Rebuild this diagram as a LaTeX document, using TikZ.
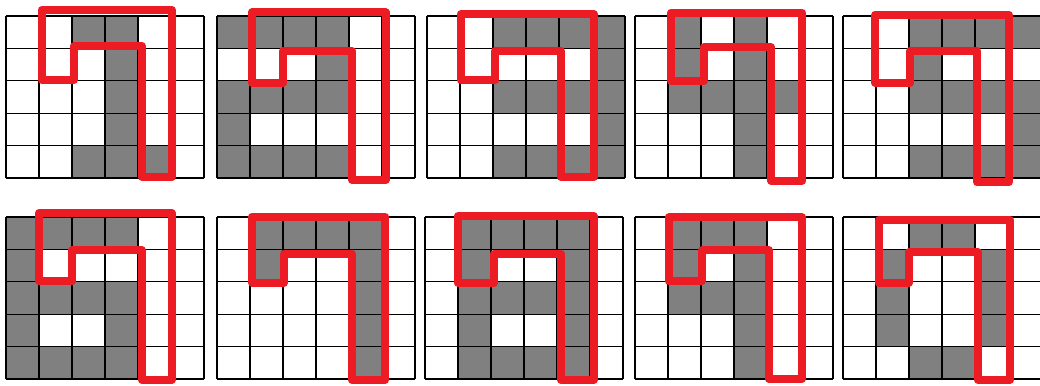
\documentclass[tikz,border=0pt]{standalone}
\usepackage{tikz}
\usetikzlibrary{positioning}
\definecolor{cellgray}{RGB}{128,128,128}
\definecolor{penred}{RGB}{237,28,36}
\tikzset{
  cellfill/.style={fill=cellgray},
  gridline/.style={draw=black, line width=1.1pt},
  redpen/.style={draw=penred, line width=8pt, line join=round, line cap=round}
}
% \digitgrid{left}{top}{row/col of the gray cells}
\newcommand{\digitgrid}[3]{%
  \foreach \ri/\ci in {#3} {\fill[cellfill] ({#1+\ci*33},{#2+\ri*32.4}) rectangle ++(33,32.4);}
  \foreach \i in {0,...,6} {\draw[gridline] ({#1+\i*33},#2) -- ++(0,162);}
  \foreach \j in {0,...,5} {\draw[gridline] (#1,{#2+\j*32.4}) -- ++(198,0);}
}
% \redhook{outer left}{inner left}{inner right}{outer right}{top}{inner top}{step}{bottom}
\newcommand{\redhook}[8]{\draw[redpen] (#1,#7) -- (#1,#5) -- (#4,#5) -- (#4,#8) -- (#3,#8) -- (#3,#6) -- (#2,#6) -- (#2,#7) -- cycle;}

\begin{document}
\begin{tikzpicture}[x=1pt, y=-1pt]
\useasboundingbox (0,0) rectangle (1040,385);
\clip (0,0) rectangle (1040,385);
\fill[white] (0,0) rectangle (1040,385);

\digitgrid{6}{16}{0/2,0/3,1/3,2/3,3/3,4/2,4/3,4/4}
\digitgrid{217}{16}{0/0,0/1,0/2,0/3,1/3,2/0,2/1,2/2,2/3,3/0,4/0,4/1,4/2,4/3}
\digitgrid{427}{16}{0/2,0/3,0/4,0/5,1/5,2/2,2/3,2/4,2/5,3/5,4/2,4/3,4/4,4/5}
\digitgrid{635}{16}{0/1,0/3,1/1,1/3,2/1,2/2,2/3,2/4,3/3,4/3}
\digitgrid{843}{16}{0/2,0/3,0/4,0/5,1/2,2/2,2/3,2/4,2/5,3/5,4/2,4/3,4/4,4/5}

\digitgrid{6}{217}{0/0,0/1,0/2,0/3,1/0,2/0,2/1,2/2,2/3,3/0,3/3,4/0,4/1,4/2,4/3}
\digitgrid{217}{217}{0/1,0/2,0/3,0/4,1/1,1/4,2/4,3/4,4/4}
\digitgrid{425}{217}{0/1,0/2,0/3,0/4,1/1,1/4,2/1,2/2,2/3,2/4,3/1,3/4,4/1,4/2,4/3,4/4}
\digitgrid{635}{217}{0/1,0/2,0/3,1/1,1/3,2/1,2/2,2/3,3/3,4/3}
\digitgrid{843}{217}{0/2,0/3,1/1,1/4,2/1,2/4,3/1,3/4,4/2,4/3}

\redhook{41.6}{74}{142}{172}{10}{46}{80}{177}
\redhook{251.7}{283}{352}{385.7}{12.5}{51}{83}{180}
\redhook{460.7}{495.3}{560.7}{594}{14.3}{50.7}{80.3}{177}
\redhook{671}{703.7}{771}{802.3}{12.7}{47.3}{81}{180.7}
\redhook{875.3}{910.3}{977.3}{1008.7}{14.7}{50.7}{82.7}{182.3}

\redhook{39}{72.3}{141.7}{171.7}{213.3}{250.3}{281}{380}
\redhook{252}{283.7}{352}{385.3}{216.7}{254}{282.7}{380}
\redhook{457.7}{493.7}{561}{593.7}{216.3}{254}{282.7}{380}
\redhook{668.7}{702}{768.7}{802}{217.3}{250.3}{281.3}{379}
\redhook{878.7}{908.7}{978}{1010.3}{219.7}{252.3}{282.7}{380}
\end{tikzpicture}
\end{document}
